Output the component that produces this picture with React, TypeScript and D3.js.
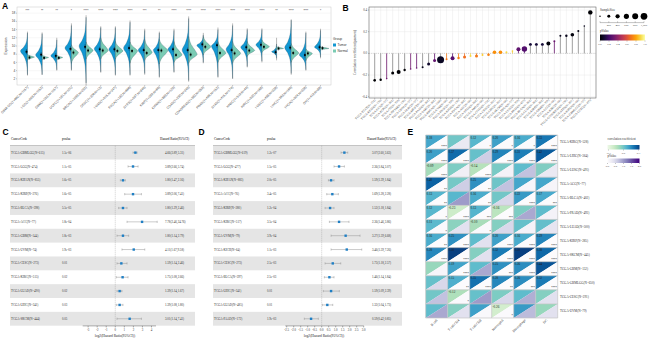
import React from "react";
import * as d3 from "d3";

// ---------------- Panel A data ----------------
const aNames = ["GBMLGG(T=662,N=1157)","LGG(T=509,N=1152)","GBM(T=153,N=1157)","UCEC(T=181,N=101)","BRCA(T=1099,N=292)","CESC(T=306,N=13)","LUAD(T=515,N=347)","ESCA(T=182,N=666)","STES(T=597,N=840)","KIRP(T=289,N=60)","KIPAN(T=889,N=129)","COAD(T=290,N=349)","COADREAD(T=383,N=359)","PRAD(T=496,N=152)","STAD(T=415,N=174)","HNSC(T=519,N=44)","KIRC(T=530,N=168)","LUSC(T=498,N=338)","LIHC(T=369,N=160)","THCA(T=504,N=338)","OV(T=419,N=88)"];
const aStars = ["***","**","**","*","****","****","****","****","***","**","****","****","****","****","****","****","****","**","****","****","*"];
const tLo = [3.0,3.0,4.2,4.2,1.0,3.7,3.0,3.0,3.3,2.5,3.7,1.6,6.0,2.5,2.1,5.0,6.3,7.0,3.3,4.2,7.3];
const tPeak = [8.8,7.8,7.6,9.5,10.0,9.3,9.2,9.5,9.0,9.0,9.2,9.0,10.2,10.0,9.2,9.7,10.3,8.6,9.6,7.8,9.7];
const tHi = [13.2,13.0,11.5,15.0,17.0,14.5,14.5,15.8,13.8,13.2,13.8,16.7,12.7,14.0,15.0,14.0,14.0,10.5,16.3,13.2,13.8];
const tWidth = [7,6.5,6,6.5,7,6.5,6.5,6.5,6.5,6,6,6.5,6.5,6.5,6.5,6.5,6,5,6.5,6.5,6];
const tMed = [8.6,7.9,7.6,9.3,9.8,9.2,9.2,9.5,9.0,9.0,9.2,9.0,10.4,10.2,9.0,9.7,10.3,8.5,9.6,7.8,9.7];
const wLo = [2.8,3.0,4.0,4.0,0.5,3.5,2.8,2.8,3.0,2.3,3.5,1.3,5.8,2.3,2.0,4.8,6.0,6.5,3.0,4.0,7.0];
const wHi = [13.5,13.3,12.0,15.5,17.5,14.8,14.8,16.2,14.2,13.5,14.2,17.2,13.2,14.5,15.5,14.3,14.3,12.0,16.5,13.5,14.2];
const nLo = [6.6,6.6,6.6,5.8,6.8,6.8,6.8,5.8,6.5,5.6,6.0,5.8,7.8,6.0,5.8,7.5,8.4,9.0,6.0,6.4,9.0];
const nPeak = [7.3,7.2,7.2,8.4,8.9,8.9,8.8,8.8,8.4,8.9,7.8,7.9,9.8,8.3,8.2,8.9,9.8,9.4,8.3,8.2,9.4];
const nHi = [8.0,7.8,7.8,10.3,11.0,12.0,11.1,11.0,11.6,11.6,11.1,12.3,12.3,11.1,11.1,11.1,11.5,9.9,10.6,9.3,9.9];
const nWidth = [7,6.5,6,7,7,7.5,7.5,7.5,7.5,8.5,8,8.5,7.5,8,8,7.5,7.5,7,7.5,6.5,8.5];
const nMed = [7.2,7.1,7.1,8.4,8.9,8.9,8.8,8.8,8.3,8.9,7.8,7.9,9.8,8.3,8.2,8.9,9.8,9.4,8.3,8.2,9.5];
const aTicks = [2,4,6,8,10,12,14,16,18];

// ---------------- Panel B data ----------------
const bCodes = ["TGCT","READ","UCS","PCPG","OV","THYM","CHOL","DLBC","MESO","PAAD","SARC","BRCA","UVM","HNSC","KICH","ESCA","ACC","STAD","LAML","COAD","CESC","LIHC","SKCM","THCA","LUSC","PRAD","BLCA","LUAD","KIRP","GBM","LGG","KIRC","COADREAD","STES","KIPAN","GBMLGG","UCEC"];
const bCorr = [-0.249,-0.243,-0.233,-0.181,-0.172,-0.154,-0.145,-0.135,-0.129,-0.098,-0.065,-0.058,-0.055,-0.046,-0.043,-0.034,-0.025,-0.025,-0.016,-0.013,0.010,0.010,0.010,0.022,0.037,0.040,0.083,0.083,0.083,0.090,0.111,0.163,0.163,0.172,0.206,0.252,0.378];
const bP = [0.0,0.0,0.32,0.0,0.0,0.01,0.32,0.3,0.05,0.08,0.28,0.06,0.7,0.25,0.72,0.68,0.9,0.7,0.88,0.72,0.75,0.75,0.9,0.88,0.27,0.24,0.1,0.1,0.1,0.02,0.3,0.05,0.05,0.02,0.03,0.05,0.0];
const bSize = [152,130,57,202,359,130,57,57,90,202,202,1100,90,359,130,202,90,202,90,152,291,291,90,57,359,655,202,202,202,359,90,90,130,291,90,57,435];
const bTicks = [-0.4,-0.2,0.0,0.2,0.4];
const bLegendSizes = [50,200,400,600,800,1000];
const bLegendLabels = ["","200","400","600","800","1,000"];
const bPTicks = [0,0.2,0.4,0.6,0.8,1.0];

// ---------------- Panel C data ----------------
const cNames = ["TCGA-GBMLGG(N=615)","TCGA-LGG(N=474)","TCGA-KIPAN(N=855)","TCGA-KIRP(N=276)","TCGA-BLCA(N=398)","TCGA-ACC(N=77)","TCGA-GBM(N=144)","TCGA-UVM(N=74)","TCGA-CESC(N=273)","TCGA-KIRC(N=515)","TCGA-LUAD(N=490)","TCGA-LIHC(N=341)","TCGA-SKCM(N=444)"];
const cPval = ["1.5e-06","1.1e-05","1.6e-05","1.6e-05","5.5e-05","1.8e-04","1.8e-03","1.9e-03","0.01","0.02","0.02","0.03","0.05"];
const cLog = [2.22,1.96,0.85,1.96,0.85,2.96,0.85,2.04,0.67,0.81,0.48,0.48,1.59];
const cLo = [1.96,1.41,0.56,1.04,0.37,1.30,0.19,0.74,0.19,0.11,0.19,0.11,0.19];
const cHi = [2.41,2.52,1.11,2.89,1.30,4.63,1.48,3.26,1.30,1.41,0.74,0.85,2.89];
const cTicks = [-3,-2,-1,0,1,2,3,4];

// ---------------- Panel D data ----------------
const dNames = ["TCGA-GBMLGG(N=619)","TCGA-LGG(N=477)","TCGA-KIPAN(N=883)","TCGA-ACC(N=76)","TCGA-KIRP(N=280)","TCGA-KIRC(N=517)","TCGA-UVM(N=79)","TCGA-KICH(N=64)","TCGA-CESC(N=273)","TCGA-BLCA(N=397)","TCGA-LIHC(N=341)","TCGA-LUAD(N=485)","TCGA-PAAD(N=172)"];
const dPval = ["1.2e-07","1.5e-05","2.0e-05","3.4e-05","1.2e-04","3.5e-04","3.9e-04","1.1e-03","2.5e-03","2.5e-03","0.01","0.01","1.9e-03"];
const dLog = [1.62,1.24,0.67,0.76,0.60,1.24,1.71,1.79,0.79,0.55,0.67,0.40,-0.76];
const dLo = [1.38,0.88,0.48,0.36,0.24,0.55,0.67,0.67,0.24,0.19,0.12,0.05,-1.24];
const dHi = [1.86,1.62,0.88,1.19,0.88,1.95,2.74,2.86,1.36,0.88,1.26,0.79,-0.24];
const dTicks = [-2.5,-2,-1.5,-1,-0.5,0,0.5,1,1.5,2,2.5,3];

// ---------------- Panel E data ----------------
const eRows = ["TCGA-KIRC(N=528)","TCGA-LIHC(N=364)","TCGA-LUSC(N=491)","TCGA-ACC(N=77)","TCGA-BLCA(N=402)","TCGA-PRAD(N=493)","TCGA-LUAD(N=500)","TCGA-KIRP(N=285)","TCGA-SKCM(N=445)","TCGA-GBM(N=152)","TCGA-GBMLGG(N=650)","TCGA-CESC(N=291)","TCGA-UVM(N=79)"];
const eCols = ["B cell","T cell CD4","T cell CD8","Neutrophil","Macrophage","DC"];
const eCorr = [
  [0.18,0.05,0.12,0.20,0.16,0.33],
  [0.20,0.37,0.08,0.29,0.31,0.42],
  [-0.09,0.02,-0.14,0.03,0.10,0.01],
  [0.40,0.04,0.25,0.06,0.18,0.18],
  [0.13,0.12,0.16,0.05,0.22,0.17],
  [0.12,-0.23,0.13,-0.16,0.02,0.10],
  [0.11,-0.02,-0.10,0.00,0.08,0.09],
  [0.16,0.25,0.10,0.20,0.16,0.29],
  [0.28,0.50,0.00,0.32,0.50,0.38],
  [-0.05,0.19,0.10,0.25,0.26,0.44],
  [0.08,0.15,0.35,0.28,0.26,0.32],
  [0.05,-0.12,0.08,0.02,0.10,0.00],
  [0.10,0.00,0.20,-0.26,0.22,-0.05],
];
const eP = [
  [5e-5,0.3,0.03,0.02,0.02,1e-6],
  [5e-5,1e-8,0.6,1e-6,1e-6,1e-9],
  [5e-5,0.2,5e-5,0.15,0.7,0.3],
  [0.005,0.6,0.008,0.7,0.1,0.12],
  [0.005,1.0,0.002,0.5,1e-5,5e-4],
  [0.02,1e-6,5e-4,5e-4,0.9,0.15],
  [0.03,0.4,0.03,0.5,0.15,0.35],
  [0.005,1e-5,0.4,5e-5,5e-5,1e-6],
  [5e-5,1e-8,0.4,1e-5,1e-8,1e-6],
  [0.1,5e-5,0.9,5e-4,5e-5,1e-7],
  [0.5,0.005,1e-6,0.005,5e-4,1e-6],
  [0.7,0.04,1.0,0.5,0.85,0.4],
  [0.9,0.4,0.06,0.03,0.75,0.4],
];
const eCorrTicks = [-0.3,0.0,0.3];
const ePTicks = [0,0.5,1,1.5,2];

const serif = "'Liberation Serif','DejaVu Serif',serif";
const sans = "'Liberation Sans',Arial,sans-serif";

function stars(p: number) {
  if (p < 1e-4) return "****";
  if (p < 1e-3) return "***";
  if (p < 0.01) return "**";
  if (p < 0.05) return "*";
  return "";
}

function Forest(props: any) {
  const { x0, x1, nameX, pX, hrX, hdrX, names, pv, lg, lo, hi, scale, ticks, fmt, titleX } = props;
  const rowY = d3.scaleBand<number>().domain(d3.range(names.length)).range([145.7, 325.7]);
  const bw = rowY.bandwidth();
  const [r0, r1] = scale.range();
  return (
    <g>
      {names.map((n: string, i: number) =>
        i % 2 === 0 ? <rect key={"b" + i} x={x0} y={rowY(i)} width={x1 - x0} height={bw} fill="#e5e5e5" /> : null
      )}
      <text x={nameX} y={139.5} fontSize={3.3} fontFamily={serif}>CancerCode</text>
      <text x={pX} y={139.5} fontSize={3.3} fontFamily={serif}>pvalue</text>
      <text x={hdrX} y={139.5} fontSize={3.3} fontFamily={serif}>Hazard Ratio(95%CI)</text>
      <line x1={x0} x2={x1} y1={145.5} y2={145.5} stroke="#777" strokeWidth={0.4} />
      <line x1={scale(0)} x2={scale(0)} y1={145.7} y2={325.7} stroke="#888" strokeWidth={0.4} strokeDasharray="1,1" />
      {names.map((n: string, i: number) => {
        const cy = (rowY(i) as number) + bw / 2;
        const hr = Math.pow(2, lg[i]).toFixed(2);
        const l = Math.pow(2, lo[i]).toFixed(2);
        const h = Math.pow(2, hi[i]).toFixed(2);
        return (
          <g key={"r" + i}>
            <text x={nameX} y={cy + 1.1} fontSize={3.1} fontFamily={serif} fill="#333">{n}</text>
            <text x={pX} y={cy + 1.1} fontSize={3.1} fontFamily={serif} fill="#333">{pv[i]}</text>
            <text x={hrX} y={cy + 1.1} fontSize={3.1} fontFamily={serif} fill="#333">{`${hr}(${l},${h})`}</text>
            <line x1={scale(lo[i])} x2={scale(hi[i])} y1={cy} y2={cy} stroke="#8a8a8a" strokeWidth={0.45} />
            <line x1={scale(lo[i])} x2={scale(lo[i])} y1={cy - 1.1} y2={cy + 1.1} stroke="#8a8a8a" strokeWidth={0.45} />
            <line x1={scale(hi[i])} x2={scale(hi[i])} y1={cy - 1.1} y2={cy + 1.1} stroke="#8a8a8a" strokeWidth={0.45} />
            <rect x={scale(lg[i]) - 1.2} y={cy - 1.2} width={2.4} height={2.4} fill="#1f7fc4" />
          </g>
        );
      })}
      <line x1={r0} x2={r1} y1={325.9} y2={325.9} stroke="#333" strokeWidth={0.4} />
      {ticks.map((t: number) => (
        <g key={"t" + t}>
          <line x1={scale(t)} x2={scale(t)} y1={325.9} y2={327.4} stroke="#333" strokeWidth={0.4} />
          <text x={scale(t)} y={331} fontSize={3} fontFamily={serif} textAnchor="middle" fill="#333">{fmt(t)}</text>
        </g>
      ))}
      <text x={titleX} y={336.8} fontSize={3.6} fontFamily={serif} textAnchor="middle" fill="#222">log2(Hazard Ratio(95%CI))</text>
    </g>
  );
}

export default function App() {
  // ---------- A ----------
  const ax0 = 17, ax1 = 331, ay0 = 7, ay1 = 85;
  const yA = d3.scaleLinear().domain([0.5, 19.5]).range([ay1, ay0]);
  const xA = d3.scalePoint<number>().domain(d3.range(aNames.length)).range([ax0, ax1]).padding(0.715);
  const profT = [0, 0.12, 0.55, 1, 0.55, 0.12, 0];
  const profN = [0, 0.3, 0.8, 1, 0.8, 0.3, 0];
  const half = (cx: number, lo: number, pk: number, hi: number, w: number, dir: number, prof: number[]) => {
    const vs = [lo, lo + (pk - lo) * 0.45, lo + (pk - lo) * 0.8, pk, pk + (hi - pk) * 0.2, pk + (hi - pk) * 0.55, hi];
    const pts = vs.map((v, i) => [v, prof[i]]).reverse();
    return d3.area<number[]>().y((d) => yA(d[0])).x0(cx).x1((d) => cx + dir * w * d[1]).curve(d3.curveMonotoneY)(pts) || "";
  };
  const tumorCol = "#1297d2";
  const normalCol = "#79cbb3";

  // ---------- B ----------
  const bx0 = 369, bx1 = 596, by0 = 7, by1 = 98;
  const yB = d3.scaleLinear().domain([-0.412, 0.428]).range([by1, by0]);
  const xB = d3.scalePoint<number>().domain(d3.range(bCorr.length)).range([bx0, bx1]).padding(0.95);
  const rB = d3.scaleSqrt().domain([0, 1100]).range([0, 3.5]);
  const colB = (p: number) => d3.interpolateInferno(p);
  const bLegX = d3.scalePoint<number>().domain(d3.range(bLegendSizes.length)).range([600, 644]);
  const bPx = d3.scaleLinear().domain([0, 1]).range([600, 645]);

  // ---------- C / D ----------
  const xC = d3.scaleLinear().domain([-3.6, 4.5]).range([82.7, 156]);
  const xD = d3.scaleLinear().domain([-2.6, 3.0]).range([285.3, 363.7]);

  // ---------- E ----------
  const xE = d3.scaleBand<number>().domain(d3.range(eCols.length)).range([425.7, 557.7]);
  const yE = d3.scaleBand<number>().domain(d3.range(eRows.length)).range([135, 318]);
  const colE = d3.scaleSequential(d3.interpolateGnBu).domain([-0.45, 0.5]);
  const colEP = d3.scaleSequential(d3.interpolatePurples).domain([0, 2]);
  const eCx = d3.scaleLinear().domain([-0.32, 0.32]).range([607.5, 639.5]);
  const ePx = d3.scaleLinear().domain([0, 2]).range([607.5, 639.5]);
  const ew = xE.bandwidth(), eh = yE.bandwidth();

  return (
    <svg width={650} height={357} style={{ position: "absolute", left: 0, top: 0, background: "#fff" }} xmlns="http://www.w3.org/2000/svg">
      <defs>
        <linearGradient id="gInferno" x1="0" x2="1" y1="0" y2="0">
          {d3.range(0, 1.01, 0.1).map((t) => <stop key={t} offset={t} stopColor={d3.interpolateInferno(t)} />)}
        </linearGradient>
        <linearGradient id="gGnBu" x1="0" x2="1" y1="0" y2="0">
          {d3.range(0, 1.01, 0.1).map((t) => <stop key={t} offset={t} stopColor={colE(-0.4 + t * 0.9)} />)}
        </linearGradient>
        <linearGradient id="gPur" x1="0" x2="1" y1="0" y2="0">
          {d3.range(0, 1.01, 0.1).map((t) => <stop key={t} offset={t} stopColor={colEP(t * 2)} />)}
        </linearGradient>
      </defs>
      <rect x={0} y={0} width={650} height={357} fill="#fff" />

      {/* ================= Panel A ================= */}
      <text x={2} y={8.8} fontSize={8.5} fontWeight="bold" fontFamily={sans}>A</text>
      <rect x={ax0} y={ay0} width={ax1 - ax0} height={ay1 - ay0} fill="#fff" stroke="#c8c8c8" strokeWidth={0.5} />
      {aTicks.map((t) => (
        <g key={"ay" + t}>
          <line x1={ax0} x2={ax1} y1={yA(t)} y2={yA(t)} stroke="#ececec" strokeWidth={0.4} />
          <line x1={ax0 - 1} x2={ax0} y1={yA(t)} y2={yA(t)} stroke="#555" strokeWidth={0.3} />
          <text x={ax0 - 1.6} y={yA(t) + 1.1} fontSize={3.2} fontFamily={sans} textAnchor="end" fill="#444">{t}</text>
        </g>
      ))}
      <text transform={`translate(7,${(ay0 + ay1) / 2}) rotate(-90)`} fontSize={3.4} fontFamily={sans} textAnchor="middle" fill="#333">Expression</text>
      {aNames.map((n, i) => {
        const cx = xA(i) as number;
        return (
          <g key={"v" + i}>
            <line x1={cx} x2={cx} y1={yA(wLo[i])} y2={yA(wHi[i])} stroke="#333" strokeWidth={0.35} />
            <path d={half(cx, tLo[i], tPeak[i], tHi[i], tWidth[i], -1, profT)} fill={tumorCol} stroke="#2a4a5a" strokeWidth={0.25} />
            <path d={half(cx, nLo[i], nPeak[i], nHi[i], nWidth[i], 1, profN)} fill={normalCol} stroke="#2a4a5a" strokeWidth={0.25} />
            <line x1={cx - 1} x2={cx - 1} y1={yA(tMed[i] - 0.6)} y2={yA(tMed[i] + 0.6)} stroke="#000" strokeWidth={0.4} />
            <rect x={cx - 1.9} y={yA(tMed[i]) - 0.9} width={1.8} height={1.8} fill="#000" />
            <line x1={cx + 2} x2={cx + 2} y1={yA(nMed[i] - 0.5)} y2={yA(nMed[i] + 0.5)} stroke="#000" strokeWidth={0.4} />
            <rect x={cx + 1.1} y={yA(nMed[i]) - 0.9} width={1.8} height={1.8} fill="#000" />
            <text x={cx} y={12} fontSize={3.2} fontFamily={sans} textAnchor="middle" fill="#333">{aStars[i]}</text>
            <line x1={cx} x2={cx} y1={ay1} y2={ay1 + 1} stroke="#555" strokeWidth={0.3} />
            <text transform={`translate(${cx + 1},${ay1 + 2.5}) rotate(-45)`} fontSize={3.2} fontFamily={sans} textAnchor="end" fill="#444">{n}</text>
          </g>
        );
      })}
      <text x={333} y={40} fontSize={3.3} fontFamily={sans} fill="#333">Group</text>
      <rect x={333} y={43.5} width={3} height={3} fill={tumorCol} />
      <text x={337.5} y={46.3} fontSize={3.2} fontFamily={sans} fill="#333">Tumor</text>
      <rect x={333} y={49.5} width={3} height={3} fill={normalCol} />
      <text x={337.5} y={52.3} fontSize={3.2} fontFamily={sans} fill="#333">Normal</text>

      {/* ================= Panel B ================= */}
      <text x={342.5} y={10.5} fontSize={8.5} fontWeight="bold" fontFamily={sans}>B</text>
      <rect x={bx0} y={by0} width={bx1 - bx0} height={by1 - by0} fill="#fff" />
      {bCorr.map((v, i) => (
        <line key={"bg" + i} x1={xB(i)} x2={xB(i)} y1={by0} y2={by1} stroke="#e6e6e6" strokeWidth={0.4} />
      ))}
      {bTicks.map((t) => (
        <g key={"bt" + t}>
          <line x1={bx0} x2={bx1} y1={yB(t)} y2={yB(t)} stroke={t === 0 ? "#888" : "#e6e6e6"} strokeWidth={0.4} strokeDasharray={t === 0 ? "1.2,1" : undefined} />
          <line x1={bx0 - 1} x2={bx0} y1={yB(t)} y2={yB(t)} stroke="#444" strokeWidth={0.35} />
          <text x={bx0 - 1.8} y={yB(t) + 1.1} fontSize={3.2} fontFamily={serif} textAnchor="end" fill="#444">{t.toFixed(1)}</text>
        </g>
      ))}
      <rect x={bx0} y={by0} width={bx1 - bx0} height={by1 - by0} fill="none" stroke="#666" strokeWidth={0.6} />
      <text transform={`translate(356,${(by0 + by1) / 2}) rotate(-90)`} fontSize={3.5} fontFamily={serif} textAnchor="middle" fill="#333">Correlation coefficient(pearson)</text>
      {bCorr.map((v, i) => {
        const cx = xB(i) as number;
        const c = colB(bP[i]);
        return (
          <g key={"bp" + i}>
            <line x1={cx} x2={cx} y1={yB(0)} y2={yB(v)} stroke={bP[i] < 0.2 ? "#8c8c8c" : c} strokeWidth={0.8} />
            <circle cx={cx} cy={yB(v)} r={rB(bSize[i])} fill={c} />
            <line x1={cx} x2={cx} y1={by1} y2={by1 + 1} stroke="#444" strokeWidth={0.3} />
            <text transform={`translate(${cx + 1},${by1 + 2.3}) rotate(-45)`} fontSize={3} fontFamily={serif} textAnchor="end" fill="#444">{`TCGA-${bCodes[i]}(N=${bSize[i]})`}</text>
          </g>
        );
      })}
      <text x={600} y={10.5} fontSize={3.2} fontFamily={serif} fill="#333">SampleSize</text>
      {bLegendSizes.map((s, i) => (
        <g key={"bl" + i}>
          <circle cx={bLegX(i)} cy={16.3} r={rB(s)} fill="#000" />
          <line x1={bLegX(i)} x2={bLegX(i)} y1={21.3} y2={22.6} stroke="#333" strokeWidth={0.3} />
          <text x={bLegX(i)} y={26.3} fontSize={2.9} fontFamily={serif} textAnchor="middle" fill="#333">{bLegendLabels[i]}</text>
        </g>
      ))}
      <line x1={600} x2={644} y1={22.6} y2={22.6} stroke="#333" strokeWidth={0.3} />
      <text x={600} y={31.5} fontSize={3.2} fontFamily={serif} fill="#333">pValue</text>
      <rect x={600} y={34.5} width={45} height={6} fill="url(#gInferno)" />
      {bPTicks.map((t) => (
        <g key={"bpt" + t}>
          <line x1={bPx(t)} x2={bPx(t)} y1={40.5} y2={41.6} stroke="#333" strokeWidth={0.3} />
          <text x={bPx(t)} y={45.3} fontSize={2.9} fontFamily={serif} textAnchor="middle" fill="#333">{t.toFixed(1)}</text>
        </g>
      ))}

      {/* ================= Panel C ================= */}
      <text x={2.5} y={134.5} fontSize={8.5} fontWeight="bold" fontFamily={sans}>C</text>
      <Forest x0={10} x1={195} nameX={11} pX={62} hrX={165} hdrX={160} names={cNames} pv={cPval} lg={cLog} lo={cLo} hi={cHi}
        scale={xC} ticks={cTicks} fmt={(t: number) => String(t)} titleX={115} />

      {/* ================= Panel D ================= */}
      <text x={198.5} y={134.5} fontSize={8.5} fontWeight="bold" fontFamily={sans}>D</text>
      <Forest x0={213} x1={402} nameX={214} pX={267} hrX={372} hdrX={367} names={dNames} pv={dPval} lg={dLog} lo={dLo} hi={dHi}
        scale={xD} ticks={dTicks} fmt={(t: number) => t.toFixed(1)} titleX={324} />

      {/* ================= Panel E ================= */}
      <text x={407.5} y={134.5} fontSize={8.5} fontWeight="bold" fontFamily={sans}>E</text>
      {eRows.map((r, i) =>
        eCols.map((c, j) => {
          const x0 = xE(j) as number, y0 = yE(i) as number;
          const x1 = x0 + ew, y1 = y0 + eh;
          const p = eP[i][j];
          const st = stars(p);
          return (
            <g key={`e${i}-${j}`}>
              <path d={`M${x0},${y0}L${x1},${y0}L${x0},${y1}Z`} fill={colE(eCorr[i][j])} />
              <path d={`M${x1},${y0}L${x1},${y1}L${x0},${y1}Z`} fill={colEP(p)} />
              {st ? (
                <text x={x0 + 0.8} y={y0 + 3.6} fontSize={3.3} fontFamily={serif} fill="#222">{eCorr[i][j].toFixed(2)}</text>
              ) : null}
              {st ? (
                <text x={x1 - 0.8} y={y1 - 0.6} fontSize={3.6} fontFamily={sans} textAnchor="end" fill="#222">{st}</text>
              ) : null}
            </g>
          );
        })
      )}
      {d3.range(eCols.length + 1).map((j) => (
        <line key={"evl" + j} x1={425.7 + j * ew} x2={425.7 + j * ew} y1={135} y2={318} stroke="#c4c4c4" strokeWidth={0.7} />
      ))}
      {d3.range(eRows.length + 1).map((i) => (
        <line key={"ehl" + i} x1={425.7} x2={557.7} y1={135 + i * eh} y2={135 + i * eh} stroke="#c4c4c4" strokeWidth={0.7} />
      ))}
      {eRows.map((r, i) => (
        <text key={"er" + i} x={560} y={(yE(i) as number) + eh / 2 + 1.1} fontSize={3.2} fontFamily={serif} fill="#333">{r}</text>
      ))}
      {eCols.map((c, j) => (
        <text key={"ec" + j} transform={`translate(${(xE(j) as number) + ew / 2 + 1},${320.5}) rotate(-45)`} fontSize={3.4} fontFamily={serif} textAnchor="end" fill="#333">{c}</text>
      ))}
      <text x={607.5} y={139.5} fontSize={3.2} fontFamily={serif} fill="#333">correlation coefficient</text>
      <rect x={607.5} y={145} width={32} height={4.5} fill="url(#gGnBu)" />
      {eCorrTicks.map((t) => (
        <g key={"ect" + t}>
          <line x1={eCx(t)} x2={eCx(t)} y1={149.5} y2={150.5} stroke="#333" strokeWidth={0.3} />
          <text x={eCx(t)} y={153.5} fontSize={2.9} fontFamily={serif} textAnchor="middle" fill="#333">{t.toFixed(1)}</text>
        </g>
      ))}
      <text x={607.5} y={157.3} fontSize={3.2} fontFamily={serif} fill="#333">pValue</text>
      <rect x={607.5} y={158.5} width={32} height={4.5} fill="url(#gPur)" />
      {ePTicks.map((t) => (
        <g key={"ept" + t}>
          <line x1={ePx(t)} x2={ePx(t)} y1={163} y2={164} stroke="#333" strokeWidth={0.3} />
          <text x={ePx(t)} y={167} fontSize={2.9} fontFamily={serif} textAnchor="middle" fill="#333">{t.toFixed(1)}</text>
        </g>
      ))}
    </svg>
  );
}
